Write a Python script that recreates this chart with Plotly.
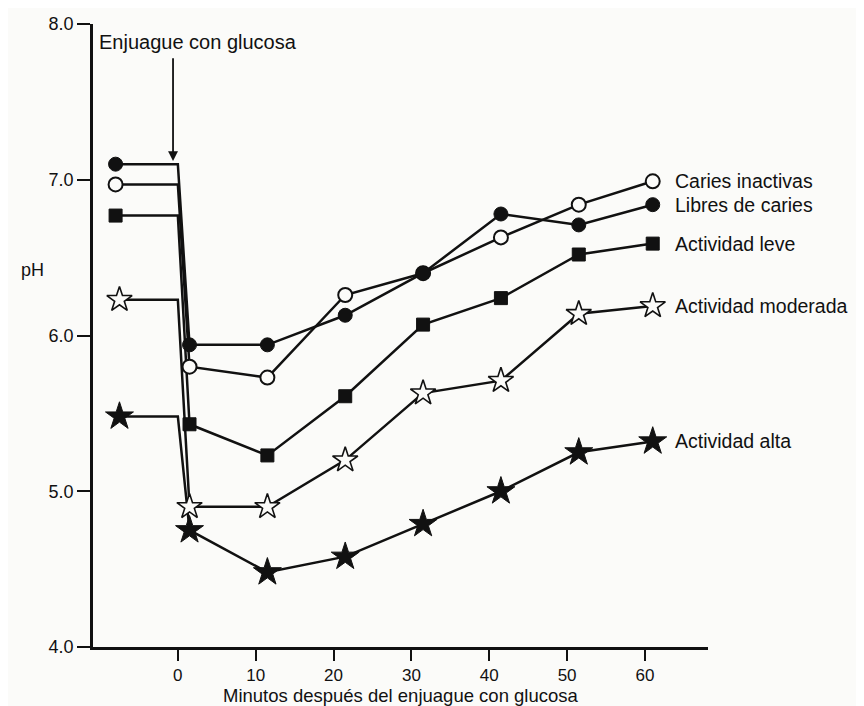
import plotly.graph_objects as go

# ---- data ----
series_names = ["Caries inactivas", "Libres de caries", "Actividad leve",
                "Actividad moderada", "Actividad alta"]
pre_minutes = [-8, -8, -8, -7.5, -7.5]          # resting value, before rinse
rinse_minute = 0                                 # glucose rinse
minutes = [1.5, 11.5, 21.5, 31.5, 41.5, 51.5, 61]
baseline_ph = [6.97, 7.10, 6.77, 6.23, 5.48]
inactivas = [5.80, 5.73, 6.26, 6.40, 6.63, 6.84, 6.99]
libres = [5.94, 5.94, 6.13, 6.40, 6.78, 6.71, 6.84]
leve = [5.43, 5.23, 5.61, 6.07, 6.24, 6.52, 6.59]
moderada = [4.90, 4.90, 5.20, 5.63, 5.71, 6.14, 6.19]
alta = [4.75, 4.48, 4.58, 4.79, 5.00, 5.25, 5.32]
series_values = [inactivas, libres, leve, moderada, alta]

x_ticks = [0, 10, 20, 30, 40, 50, 60]
y_ticks = [4.0, 5.0, 6.0, 7.0, 8.0]

# ---- styles ----
INK = "#111111"
BG = "#fbfbf9"
FONT = "Liberation Sans, Arial, sans-serif"
marker_styles = [
    dict(symbol="circle", size=14, color=BG, line=dict(color=INK, width=2)),
    dict(symbol="circle", size=14, color=INK, line=dict(color=INK, width=1)),
    dict(symbol="square", size=13, color=INK, line=dict(color=INK, width=1)),
    dict(symbol="star", size=19, color=BG, line=dict(color=INK, width=1.6)),
    dict(symbol="star", size=21, color=INK, line=dict(color=INK, width=1)),
]

fig = go.Figure()

# lines first (pre-rinse level, drop at rinse, recovery)
for name, px, base, vals in zip(series_names, pre_minutes, baseline_ph, series_values):
    fig.add_trace(go.Scatter(
        x=[px, rinse_minute] + minutes,
        y=[base, base] + vals,
        mode="lines", line=dict(color=INK, width=2.5),
        showlegend=False, hoverinfo="skip", cliponaxis=False))

# markers on top
for name, px, base, vals, ms in zip(series_names, pre_minutes, baseline_ph,
                                    series_values, marker_styles):
    fig.add_trace(go.Scatter(
        x=[px] + minutes, y=[base] + vals, mode="markers",
        marker=ms, name=name, showlegend=False, cliponaxis=False))

# series labels at end of each curve
for name, vals in zip(series_names, series_values):
    fig.add_annotation(x=minutes[-1], y=vals[-1], text=name, showarrow=False,
                       xanchor="left", yanchor="middle", xshift=20,
                       font=dict(family=FONT, size=19.5, color=INK))

# rinse arrow and caption
fig.add_annotation(x=-0.62, y=7.12, ax=-0.62, ay=7.79, xref="x", yref="y",
                   axref="x", ayref="y", text="", showarrow=True,
                   arrowhead=2, arrowsize=1.1, arrowwidth=1.8, arrowcolor=INK)
fig.add_annotation(x=-10.39, y=7.884, text="Enjuague con glucosa", showarrow=False,
                   xanchor="left", yanchor="middle",
                   font=dict(family=FONT, size=20, color=INK))

# pH label
fig.add_annotation(xref="paper", yref="y", x=-0.0976, y=6.42, text="pH",
                   showarrow=False, xanchor="center", yanchor="middle",
                   font=dict(family=FONT, size=18, color=INK))

# x-axis title
fig.add_annotation(xref="paper", yref="paper", x=0.5, y=0, yshift=-36,
                   text="Minutos después del enjuague con glucosa",
                   showarrow=False, xanchor="center", yanchor="top",
                   font=dict(family=FONT, size=18.5, color=INK))

# page body has an 8px default margin -> figure sized/offset accordingly
fig.update_layout(
    width=856, height=698,
    margin=dict(l=85, r=156, t=16, b=59, autoexpand=False),
    paper_bgcolor=BG, plot_bgcolor=BG,
    font=dict(family=FONT, size=18, color=INK),
    xaxis=dict(range=[-10.9, 68.1], tickvals=x_ticks, ticks="outside",
               ticklen=11, tickwidth=2, tickcolor=INK,
               showline=True, linecolor=INK, linewidth=2.5,
               showgrid=False, zeroline=False, automargin=False,
               tickfont=dict(size=17)),
    yaxis=dict(range=[4, 8], tickvals=y_ticks, tickformat=".1f",
               ticks="outside", ticklen=13, tickwidth=2, tickcolor=INK,
               showline=True, linecolor=INK, linewidth=2.5,
               showgrid=False, zeroline=False, automargin=False,
               tickfont=dict(size=18)),
)

fig.write_html("out.html")
